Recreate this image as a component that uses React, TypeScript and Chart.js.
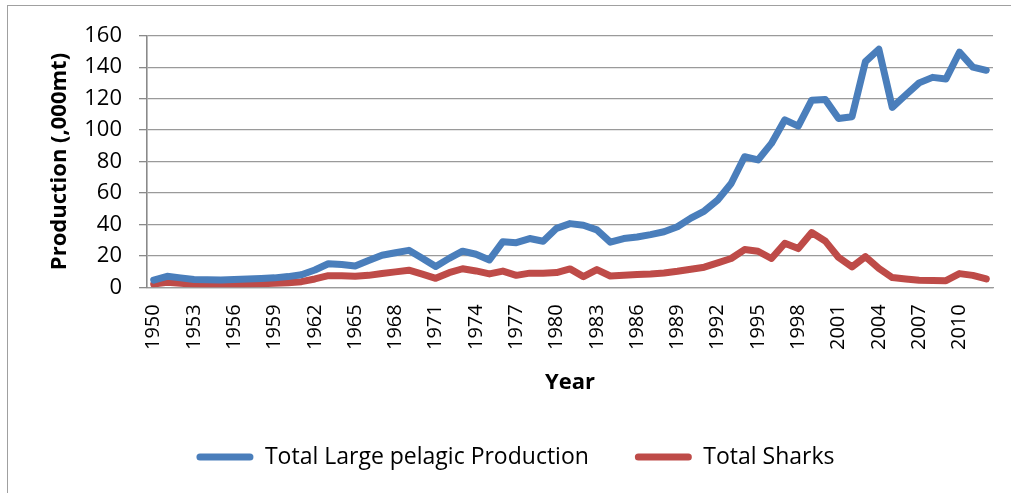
import React, { useEffect, useRef } from "react";
import { Chart, registerables } from "chart.js";

Chart.register(...registerables);

const years = [
  "1950", "1951", "1952", "1953", "1954", "1955", "1956", "1957", "1958", "1959",
  "1960", "1961", "1962", "1963", "1964", "1965", "1966", "1967", "1968", "1969",
  "1970", "1971", "1972", "1973", "1974", "1975", "1976", "1977", "1978", "1979",
  "1980", "1981", "1982", "1983", "1984", "1985", "1986", "1987", "1988", "1989",
  "1990", "1991", "1992", "1993", "1994", "1995", "1996", "1997", "1998", "1999",
  "2000", "2001", "2002", "2003", "2004", "2005", "2006", "2007", "2008", "2009",
  "2010", "2011", "2012",
];

const largePelagic = [
  4.6, 7, 6, 5, 4.8, 4.6, 5, 5.3, 5.6, 6,
  6.8, 8, 11, 15, 14.5, 13.5, 17, 20.4, 22, 23.5,
  18.5, 13.2, 18.4, 23, 21, 17.4, 29, 28.4, 31, 29.3,
  37.5, 40.5, 39.5, 36.5, 28.7, 31, 32, 33.5, 35.3, 38.5,
  44, 48.5, 55.5, 66, 83, 81, 91.5, 106.5, 102.5, 119,
  119.5, 107.4, 108.5, 143.5, 151.4, 114.4, 122.3, 130, 133.5, 132.5,
  149.5, 140, 138,
];

const sharks = [
  2, 3.2, 2.6, 2, 1.7, 1.5, 1.7, 1.9, 2.2, 2.5,
  2.9, 3.6, 5.3, 7.4, 7.4, 7, 7.6, 8.8, 9.8, 10.9,
  8.4, 5.7, 9.3, 11.8, 10.4, 8.5, 10.3, 7.6, 9, 9,
  9.4, 11.7, 6.8, 11.3, 7.2, 7.6, 8.1, 8.5, 9.1, 10.2,
  11.5, 12.8, 15.5, 18.3, 24, 22.9, 18.3, 28, 24.6, 34.8,
  29.5, 19, 13, 19.5, 12, 6.2, 5.3, 4.5, 4.3, 4.2,
  8.7, 7.6, 5.3,
];

const seriesNames = ["Total Large pelagic Production", "Total Sharks"];
const seriesColors = ["#4A7EBB", "#BE4B48"];
const yMin = 0;
const yMax = 160;
const yStep = 20;
const yTitle = "Production (,000mt)";
const xTitle = "Year";
const labelEvery = 3;

const FONT = "'Open Sans', 'DejaVu Sans', sans-serif";

export default function App() {
  const ref = useRef<HTMLCanvasElement>(null);

  useEffect(() => {
    document.body.style.margin = "0";
    const canvas = ref.current;
    if (!canvas) return;
    const chart = new Chart(canvas, {
      type: "line",
      data: {
        labels: years,
        datasets: [
          {
            label: seriesNames[0],
            data: largePelagic,
            borderColor: seriesColors[0],
            backgroundColor: seriesColors[0],
            borderWidth: 7,
            borderJoinStyle: "round",
            borderCapStyle: "round",
            pointRadius: 0,
            pointHoverRadius: 0,
            tension: 0,
            fill: false,
          },
          {
            label: seriesNames[1],
            data: sharks,
            borderColor: seriesColors[1],
            backgroundColor: seriesColors[1],
            borderWidth: 7,
            borderJoinStyle: "round",
            borderCapStyle: "round",
            pointRadius: 0,
            pointHoverRadius: 0,
            tension: 0,
            fill: false,
          },
        ],
      },
      options: {
        animation: false,
        responsive: false,
        devicePixelRatio: 1,
        events: [],
        layout: { padding: { top: 35.7, left: 38, right: 18, bottom: 14.5 } },
        plugins: {
          tooltip: { enabled: false },
          legend: {
            display: true,
            position: "bottom",
            labels: {
              boxWidth: 57,
              boxHeight: 7,
              padding: 46,
              color: "#000",
              font: { family: FONT, size: 23 },
              useBorderRadius: true,
              borderRadius: 3.5,
              generateLabels: (ch: any) => {
                const base = Chart.defaults.plugins.legend.labels.generateLabels(ch);
                return base.map((l: any, i: number) => ({
                  ...l,
                  fillStyle: seriesColors[i],
                  strokeStyle: seriesColors[i],
                  lineWidth: 0,
                }));
              },
            },
          },
        },
        scales: {
          x: {
            type: "category",
            offset: true,
            grid: { display: false, drawTicks: false, tickLength: 0 },
            border: { display: true, color: "#9a9a9a", width: 1.3 },
            ticks: {
              autoSkip: false,
              maxRotation: 90,
              minRotation: 90,
              padding: 17,
              color: "#000",
              font: { family: FONT, size: 20 },
              callback: (_v: any, i: number) => (i % labelEvery === 0 ? years[i] : ""),
            },
            title: {
              display: true,
              text: xTitle,
              color: "#000",
              font: { family: FONT, size: 22, weight: "bold" },
              padding: { top: 0, bottom: 3.3 },
            },
            afterFit: (scale: any) => {
              scale.height = 112.2;
              scale.paddingLeft = 0;
              scale.paddingRight = 0;
            },
          },
          y: {
            min: yMin,
            max: yMax,
            grid: {
              color: "#9a9a9a",
              lineWidth: 1.3,
              drawTicks: true,
              tickLength: 8,
              tickColor: "#8a8a8a",
            },
            border: { display: true, color: "#8a8a8a", width: 1.6 },
            ticks: {
              stepSize: yStep,
              padding: 17,
              color: "#000",
              font: { family: FONT, size: 22 },
            },
            title: {
              display: true,
              text: yTitle,
              color: "#000",
              font: { family: FONT, size: 22, weight: "bold" },
              padding: { top: 9, bottom: 0 },
            },
            afterFit: (scale: any) => {
              scale.width = 109;
            },
          },
        },
      },
    });
    return () => chart.destroy();
  }, []);

  return (
    <>
      <div
        style={{
          position: "fixed",
          left: 7,
          top: 5,
          width: 1004,
          height: 488,
          borderLeft: "1px solid #a0a0a0",
          borderTop: "1px solid #a0a0a0",
          boxSizing: "border-box",
        }}
      />
      <canvas
        ref={ref}
        width={1011}
        height={493}
        style={{ position: "fixed", left: 0, top: 0, width: 1011, height: 493 }}
      />
    </>
  );
}
